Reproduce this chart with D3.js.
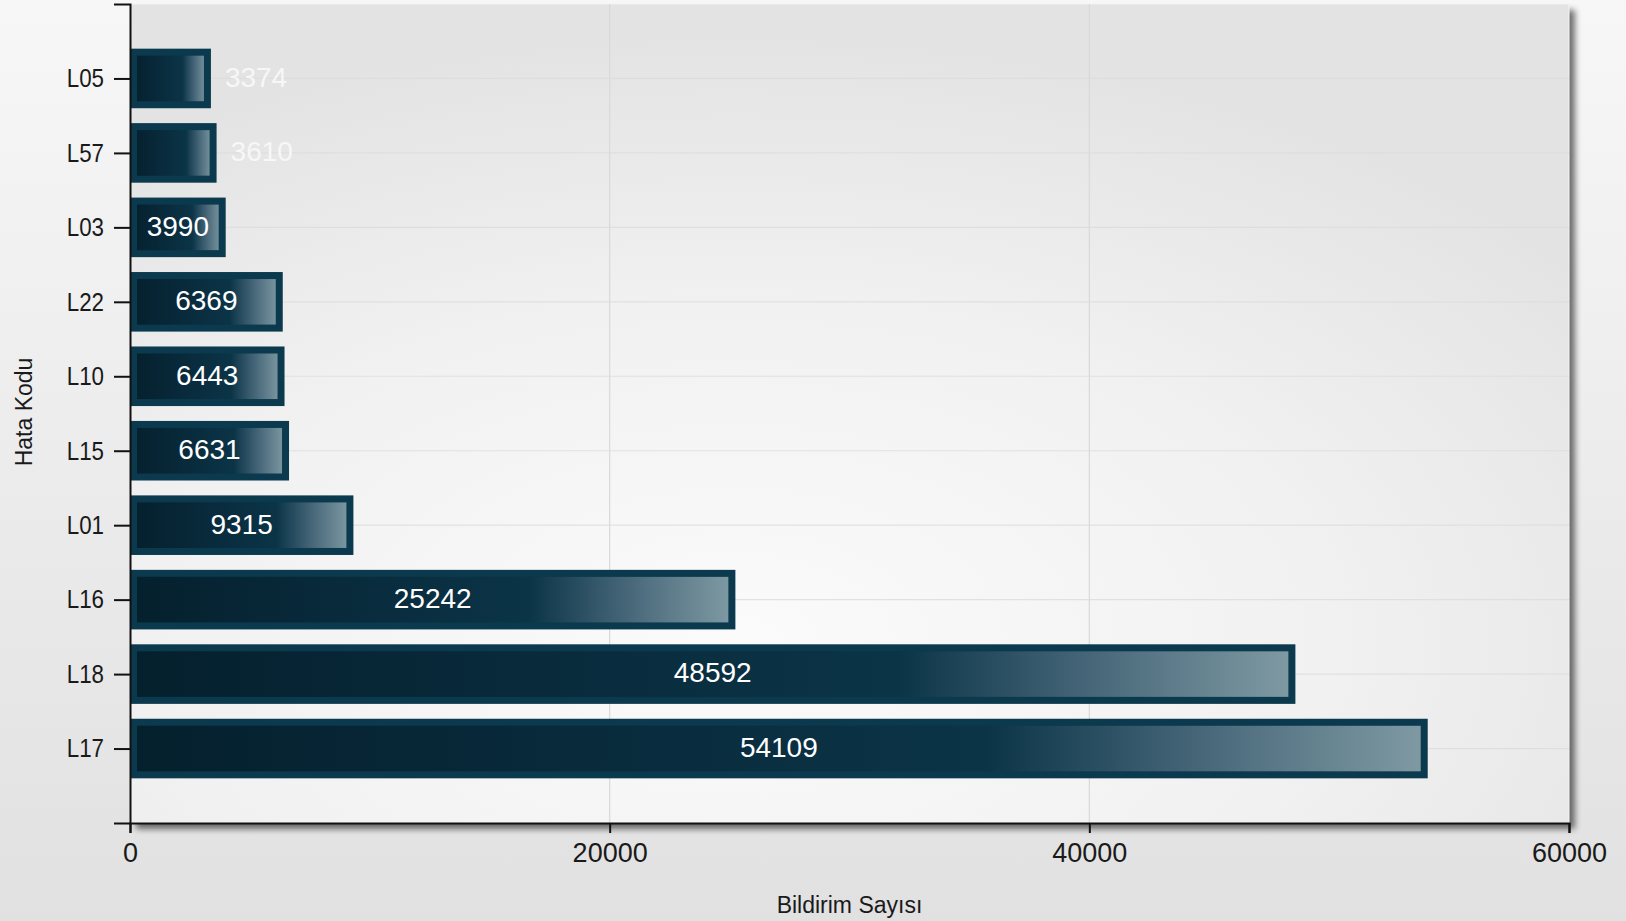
<!DOCTYPE html>
<html>
<head>
<meta charset="utf-8">
<script src="https://cdn.jsdelivr.net/npm/d3@7"></script>
<style>
  html, body { margin: 0; padding: 0; }
  body { width: 1626px; height: 921px; overflow: hidden; }
  svg { display: block; }
  text { font-family: "Liberation Sans", Arial, sans-serif; }
</style>
</head>
<body>
<svg id="chart" width="1626" height="921"></svg>
<script>
// ---- data ----
const categories = ["L05", "L57", "L03", "L22", "L10", "L15", "L01", "L16", "L18", "L17"];
const values = [3374, 3610, 3990, 6369, 6443, 6631, 9315, 25242, 48592, 54109];
const xTicks = [0, 20000, 40000, 60000];
const xTitle = "Bildirim Sayısı";
const yTitle = "Hata Kodu";

const W = 1626, H = 921;
const margin = { left: 130, right: 57, top: 4, bottom: 98 };
const plotL = margin.left, plotR = W - margin.right, plotT = margin.top, plotB = H - margin.bottom;

const svg = d3.select("#chart");
const defs = svg.append("defs");

// page background gradient
const pg = defs.append("linearGradient").attr("id", "pageBg").attr("x1", 0).attr("y1", 0).attr("x2", 0).attr("y2", 1);
pg.append("stop").attr("offset", 0).attr("stop-color", "#f7f7f7");
pg.append("stop").attr("offset", 1).attr("stop-color", "#e1e1e1");

// plot background gradient
const rg = defs.append("radialGradient").attr("id", "plotBg")
  .attr("cx", 0.42).attr("cy", 0.78).attr("r", 0.75).attr("fx", 0.42).attr("fy", 0.78);
rg.append("stop").attr("offset", 0).attr("stop-color", "#fbfbfb");
rg.append("stop").attr("offset", 0.55).attr("stop-color", "#f1f1f1");
rg.append("stop").attr("offset", 1).attr("stop-color", "#e3e3e3");

// bar gradient
const bg = defs.append("linearGradient").attr("id", "barFill").attr("x1", 0).attr("y1", 0).attr("x2", 1).attr("y2", 0);
bg.append("stop").attr("offset", 0).attr("stop-color", "#05202d");
bg.append("stop").attr("offset", 0.3).attr("stop-color", "#08293a");
bg.append("stop").attr("offset", 0.66).attr("stop-color", "#0b3447");
bg.append("stop").attr("offset", 0.83).attr("stop-color", "#48687a");
bg.append("stop").attr("offset", 1).attr("stop-color", "#7f9aa3");

// shadow filter
const f = defs.append("filter").attr("id", "shadow").attr("x", -0.05).attr("y", -0.05).attr("width", 1.1).attr("height", 1.1);
f.append("feGaussianBlur").attr("in", "SourceAlpha").attr("stdDeviation", 3).attr("result", "b");
f.append("feOffset").attr("in", "b").attr("dx", 6).attr("dy", 6).attr("result", "o");
f.append("feComponentTransfer").attr("in", "o").attr("result", "o2")
  .append("feFuncA").attr("type", "linear").attr("slope", 0.55);
const fm = f.append("feMerge");
fm.append("feMergeNode").attr("in", "o2");
fm.append("feMergeNode").attr("in", "SourceGraphic");

svg.append("rect").attr("width", W).attr("height", H).attr("fill", "url(#pageBg)");

// plot area
svg.append("rect")
  .attr("x", plotL).attr("y", plotT).attr("width", plotR - plotL).attr("height", plotB - plotT)
  .attr("fill", "url(#plotBg)").attr("filter", "url(#shadow)");
svg.append("rect")
  .attr("x", plotL).attr("y", plotT).attr("width", plotR - plotL).attr("height", plotB - plotT)
  .attr("fill", "none").attr("stroke", "#f4f4f4").attr("stroke-width", 1);

// scales
const x = d3.scaleLinear().domain([0, 60000]).range([plotL, plotR]);
const y = d3.scalePoint().domain(categories).range([plotT, plotB]).padding(1);
const barH = y.step() * 0.8;

// gridlines
svg.append("g").selectAll("line.v").data(xTicks.slice(1, -1)).join("line")
  .attr("x1", d => x(d)).attr("x2", d => x(d)).attr("y1", plotT).attr("y2", plotB)
  .attr("stroke", "#d9d9d9").attr("stroke-width", 1.2);
svg.append("g").selectAll("line.h").data(categories).join("line")
  .attr("x1", plotL).attr("x2", plotR).attr("y1", d => y(d)).attr("y2", d => y(d))
  .attr("stroke", "#dcdcdc").attr("stroke-width", 1.2).attr("opacity", 0.8);

// bars
const sw = 7;
const bars = svg.append("g");
bars.selectAll("rect").data(categories).join("rect")
  .attr("x", x(0) + sw / 2)
  .attr("y", d => y(d) - barH / 2 + sw / 2)
  .attr("width", (d, i) => Math.max(0, x(values[i]) - x(0) - sw))
  .attr("height", barH - sw)
  .attr("fill", "url(#barFill)")
  .attr("stroke", "#0b394d").attr("stroke-width", sw);

// labels
const labelG = svg.append("g");
categories.forEach((c, i) => {
  const v = values[i];
  const t = labelG.append("text")
    .attr("y", y(c)).attr("dy", "0.3em")
    .attr("font-size", 28).text(v);
  const tw = t.node().getComputedTextLength();
  const bw = x(v) - x(0);
  if (bw >= tw + 30) {
    t.attr("x", x(0) + bw / 2).attr("text-anchor", "middle").attr("fill", "#ffffff");
  } else {
    t.attr("x", x(v) + 14).attr("text-anchor", "start").attr("fill", "#f7f7f7");
  }
});

// axes
const yAxis = d3.axisLeft(y).tickSize(16).tickSizeOuter(16).tickPadding(10);
const yg = svg.append("g").attr("transform", `translate(${plotL},0)`).call(yAxis);
yg.select(".domain").attr("stroke", "#111").attr("stroke-width", 2);
yg.selectAll(".tick line").attr("stroke", "#111").attr("stroke-width", 2);
const sx = 0.86;
yg.selectAll(".tick text")
  .attr("font-family", "'Liberation Sans', Arial, sans-serif")
  .attr("font-size", 26).attr("fill", "#1a1a1a")
  .attr("x", -26 / sx)
  .attr("transform", `scale(${sx},1)`);

const xAxis = d3.axisBottom(x).tickValues(xTicks).tickFormat(d3.format("d")).tickSize(10).tickSizeOuter(10).tickPadding(10);
const xg = svg.append("g").attr("transform", `translate(0,${plotB})`).call(xAxis);
xg.select(".domain").attr("stroke", "#111").attr("stroke-width", 2);
xg.selectAll(".tick line").attr("stroke", "#111").attr("stroke-width", 2);
xg.selectAll(".tick text")
  .attr("font-family", "'Liberation Sans', Arial, sans-serif")
  .attr("font-size", 27).attr("fill", "#1a1a1a");

// titles
svg.append("text").attr("x", (plotL + plotR) / 2).attr("y", 913)
  .attr("text-anchor", "middle").attr("font-size", 23).attr("fill", "#1a1a1a").text(xTitle);
svg.append("text").attr("transform", `translate(32,412) rotate(-90)`)
  .attr("text-anchor", "middle").attr("font-size", 23).attr("fill", "#1a1a1a").text(yTitle);
</script>
</body>
</html>
